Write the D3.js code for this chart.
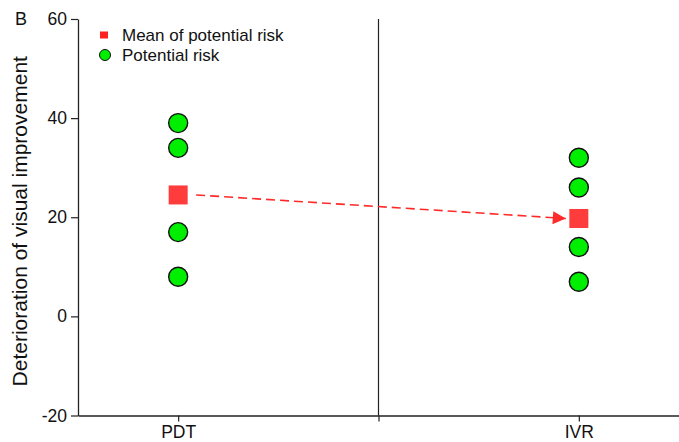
<!DOCTYPE html>
<html>
<head>
<meta charset="utf-8">
<script src="https://cdn.jsdelivr.net/npm/d3@7"></script>
<style>
  body { margin: 0; background: #fff; }
  svg, svg text { font-family: "Liberation Sans", Arial, sans-serif; }
</style>
</head>
<body>
<div id="chart"></div>
<script>
// Data
const groups = ['PDT', 'IVR'];
const pdtRisk = [39, 34, 17, 8];
const ivrRisk = [32, 26, 14, 7];
const yTicks = [-20, 0, 20, 40, 60];

const riskByGroup = { PDT: pdtRisk, IVR: ivrRisk };
const means = groups.map(g => ({ group: g, value: d3.mean(riskByGroup[g]) }));

const width = 679, height = 442;
const margin = { top: 19, right: 0, bottom: 26, left: 78 };
const font = '"Liberation Sans", Arial, sans-serif';

const svg = d3.select('#chart').append('svg')
    .attr('width', width)
    .attr('height', height);

const x = d3.scaleLinear()
    .domain([0.75, 2.25])
    .range([margin.left, width - margin.right]);

const y = d3.scaleLinear()
    .domain([-20, 60])
    .range([height - margin.bottom - 0.5, margin.top]);

const groupX = g => x(groups.indexOf(g) + 1);

// Y axis
const yAxis = svg.append('g')
    .attr('transform', `translate(${margin.left},0)`)
    .attr('font-family', font)
    .call(d3.axisLeft(y).tickValues(yTicks).tickFormat(d => String(d))
        .tickSize(7).tickPadding(4).tickSizeOuter(0));
yAxis.select('.domain').attr('stroke', '#222').attr('stroke-width', 1.3);
yAxis.selectAll('.tick line').attr('stroke', '#222').attr('stroke-width', 1.2);
yAxis.selectAll('.tick text').attr('font-size', 17.5).attr('fill', '#111');

// X axis
const xAxis = svg.append('g')
    .attr('transform', `translate(0,${y(-20)})`)
    .attr('font-family', font)
    .call(d3.axisBottom(x).tickValues([1, 1.5, 2])
        .tickFormat(d => d === 1.5 ? '' : groups[d - 1])
        .tickSize(6).tickPadding(4).tickSizeOuter(0));
xAxis.select('.domain').attr('stroke', '#222').attr('stroke-width', 1.3);
xAxis.selectAll('.tick line').attr('stroke', '#222').attr('stroke-width', 1.2);
xAxis.selectAll('.tick text').attr('font-size', 17.5).attr('fill', '#111');

// Separator between groups
svg.append('line')
    .attr('x1', x(1.5)).attr('x2', x(1.5))
    .attr('y1', y(60)).attr('y2', y(-20))
    .attr('stroke', '#222')
    .attr('stroke-width', 1.2);

// Y axis title
svg.append('text')
    .attr('transform', `translate(27,${(y(60) + y(-20)) / 2 + 4}) rotate(-90)`)
    .attr('text-anchor', 'middle')
    .attr('font-size', 21)
    .attr('fill', '#111')
    .text('Deterioration of visual improvement');

// Panel letter
svg.append('text')
    .attr('x', 15).attr('y', 25)
    .attr('font-size', 18)
    .attr('fill', '#111')
    .text('B');

// Arrow marker
svg.append('defs').append('marker')
    .attr('id', 'arrow')
    .attr('viewBox', '0 0 10 10')
    .attr('refX', 10).attr('refY', 5)
    .attr('markerUnits', 'userSpaceOnUse')
    .attr('markerWidth', 20).attr('markerHeight', 13)
    .attr('orient', 'auto')
    .append('path')
    .attr('d', 'M0,0L10,5L0,10Z')
    .attr('fill', '#ff2a2a');

// Dashed arrow between means
const m0 = means[0], m1 = means[1];
svg.append('line')
    .attr('x1', groupX(m0.group) + 18).attr('y1', y(m0.value))
    .attr('x2', groupX(m1.group) - 13).attr('y2', y(m1.value))
    .attr('stroke', '#ff2a2a')
    .attr('stroke-width', 1.6)
    .attr('stroke-dasharray', '9,5')
    .attr('marker-end', 'url(#arrow)');

// Potential risk points
groups.forEach(g => {
    svg.append('g').selectAll('circle')
        .data(riskByGroup[g])
        .join('circle')
        .attr('cx', groupX(g))
        .attr('cy', d => y(d))
        .attr('r', 9.5)
        .attr('fill', '#00ee00')
        .attr('stroke', '#111')
        .attr('stroke-width', 1.4);
});

// Means
const sq = 19;
svg.append('g').selectAll('rect')
    .data(means)
    .join('rect')
    .attr('x', d => groupX(d.group) - sq / 2)
    .attr('y', d => y(d.value) - sq / 2)
    .attr('width', sq).attr('height', sq)
    .attr('fill', '#ff3c3c');

// Legend
const legend = svg.append('g');
legend.append('rect')
    .attr('x', 100).attr('y', 31.5).attr('width', 8).attr('height', 7)
    .attr('fill', '#ff2020');
legend.append('text')
    .attr('x', 122).attr('y', 41)
    .attr('font-size', 17).attr('fill', '#111')
    .text('Mean of potential risk');
legend.append('circle')
    .attr('cx', 105).attr('cy', 55).attr('r', 5.5)
    .attr('fill', '#00ee00').attr('stroke', '#111').attr('stroke-width', 1);
legend.append('text')
    .attr('x', 122).attr('y', 61)
    .attr('font-size', 17).attr('fill', '#111')
    .text('Potential risk');
</script>
</body>
</html>
